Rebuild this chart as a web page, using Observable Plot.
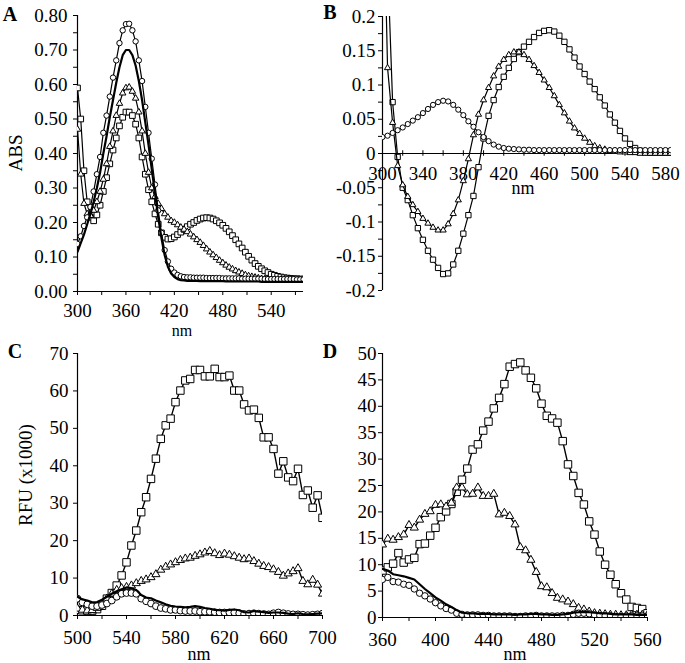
<!DOCTYPE html>
<html><head><meta charset="utf-8">
<script src="https://cdn.jsdelivr.net/npm/d3@7"></script>
<script src="https://cdn.jsdelivr.net/npm/@observablehq/plot@0.6"></script>
<style>
body{margin:0;background:#fff;}
#wrap{position:relative;width:685px;height:663px;overflow:hidden;font-family:"Liberation Serif","Times New Roman",serif;color:#000;}
.panel{position:absolute;}
.lbl{position:absolute;font-size:19px;line-height:1;white-space:nowrap;transform:translate(-50%,-50%);}
.nm{font-size:18px;}
.nmA{font-size:16px;}
.rot{transform:translate(-50%,-50%) rotate(-90deg);}
.let{position:absolute;font-size:20px;font-weight:bold;line-height:1;transform:translate(-50%,-50%);}
</style></head><body><div id="wrap"></div>
<script>
// ---------- Panel A (absorbance) ----------
const nmA = [300,304,308,312,316,320,324,328,332,336,340,344,348,352,356,360,364,368,372,376,380,384,388,392,396,400,404,408,412,416,420,424,428,432,436,440,444,448,452,456,460,464,468,472,476,480,484,488,492,496,500,504,508,512,516,520,524,528,532,536,540,544,548,552,556,560,564,568,572,576,580];
const absCircle = [0.138,0.16,0.19,0.215,0.245,0.29,0.34,0.39,0.46,0.51,0.565,0.62,0.67,0.72,0.757,0.775,0.776,0.757,0.725,0.67,0.61,0.535,0.46,0.385,0.31,0.235,0.17,0.12,0.087,0.066,0.055,0.048,0.044,0.042,0.041,
  0.041,0.040,0.040,0.040,0.040,0.039,0.039,0.039,0.039,0.039,0.038,0.038,0.038,0.038,0.038,0.038,0.037,0.037,0.037,0.037,0.037,0.037,0.037,0.036,0.036,0.036,0.036,0.036,0.036,0.036,0.036,0.036,0.036,0.035,0.035,0.035];
const absSolid = [0.115,0.14,0.165,0.195,0.225,0.26,0.30,0.345,0.40,0.45,0.505,0.555,0.605,0.65,0.685,0.70,0.70,0.685,0.655,0.61,0.555,0.49,0.425,0.355,0.285,0.215,0.155,0.105,0.072,0.052,0.042,0.036,0.033,0.032,0.031,
  0.031,0.031,0.031,0.030,0.030,0.030,0.030,0.030,0.030,0.030,0.030,0.029,0.029,0.029,0.029,0.029,0.029,0.029,0.029,0.029,0.029,0.029,0.028,0.028,0.028,0.028,0.028,0.028,0.028,0.028,0.028,0.028,0.028,0.028,0.028,0.028];
const absTriangle = [0.47,0.34,0.255,0.225,0.22,0.235,0.26,0.29,0.325,0.37,0.42,0.465,0.51,0.545,0.575,0.59,0.592,0.58,0.56,0.52,0.465,0.40,0.345,0.30,0.275,0.255,0.24,0.225,0.215,0.205,0.2,0.193,0.186,0.18,0.173,
  0.166,0.158,0.15,0.142,0.133,0.123,0.114,0.106,0.098,0.09,0.083,0.076,0.07,0.065,0.06,0.056,0.052,0.048,0.045,0.043,0.041,0.039,0.037,0.036,0.035,0.034,0.034,0.033,0.033,0.033,0.032,0.032,0.032,0.032,0.032,0.032];
const absSquare = [0.59,0.50,0.35,0.26,0.215,0.205,0.222,0.25,0.29,0.33,0.37,0.41,0.445,0.48,0.505,0.52,0.52,0.51,0.485,0.445,0.39,0.34,0.295,0.26,0.225,0.195,0.17,0.157,0.152,0.153,0.158,0.165,0.172,0.18,0.188,
  0.195,0.2,0.206,0.21,0.213,0.214,0.213,0.21,0.205,0.199,0.192,0.183,0.173,0.162,0.15,0.138,0.126,0.114,0.102,0.091,0.081,0.073,0.066,0.06,0.055,0.05,0.047,0.044,0.042,0.04,0.039,0.038,0.037,0.037,0.036,0.036];
const yTicksA = [0,0.1,0.2,0.3,0.4,0.5,0.6,0.7,0.8];
const yMinorA = [0.05,0.15,0.25,0.35,0.45,0.55,0.65,0.75];
const xTicksA = [300,360,420,480,540];
const xMinorA = [330,390,450,510,570];

// ---------- Panel B (difference spectra) ----------
const nmB = [300,305,310,315,320,325,330,335,340,345,350,355,360,365,370,375,380,385,390,395,400,405,410,415,420,425,430,435,440,445,450,455,460,465,470,475,480,485,490,495,500,505,510,515,520,525,530,535,540,545,550,555,560,565,570,575,580,585];
const difCircle = [0.024,0.026,0.03,0.034,0.038,0.043,0.048,0.053,0.059,0.065,0.071,0.075,0.077,0.076,0.071,0.064,0.056,0.047,0.039,0.031,0.024,0.018,0.013,0.01,0.008,0.007,0.0065,0.006,
  0.0055,0.0055,0.005,0.005,0.005,0.005,0.005,0.005,0.005,0.005,0.005,0.005,0.005,0.005,0.005,0.005,0.005,0.005,0.005,0.005,0.005,0.005,0.005,0.005,0.005,0.005,0.005,0.005,0.005,0.005];
const difTriangle = [0.45,0.125,0.045,-0.018,-0.046,-0.063,-0.075,-0.085,-0.095,-0.102,-0.108,-0.112,-0.112,-0.103,-0.088,-0.068,-0.04,-0.008,0.027,0.057,0.078,0.096,0.113,0.127,0.137,0.144,0.148,0.148,
  0.144,0.137,0.128,0.118,0.107,0.096,0.084,0.071,0.059,0.047,0.037,0.029,0.022,0.016,0.011,0.008,0.006,0.004,0.003,0.002,0.002,0.001,0.001,0,0,0,0,0,0,0];
const difSquare = [0.6,0.28,0.075,-0.005,-0.05,-0.068,-0.09,-0.109,-0.126,-0.142,-0.155,-0.167,-0.176,-0.175,-0.162,-0.142,-0.117,-0.09,-0.062,-0.02,0.022,0.055,0.078,0.097,0.112,0.125,0.138,0.148,
  0.156,0.163,0.17,0.176,0.179,0.18,0.178,0.172,0.163,0.152,0.14,0.127,0.116,0.105,0.094,0.082,0.07,0.057,0.045,0.033,0.022,0.014,0.008,0.004,0.002,0.001,0.001,0.001,0.001,0.001];
const yTicksB = [-0.2,-0.15,-0.1,-0.05,0,0.05,0.1,0.15,0.2];
const yMinorB = [-0.175,-0.125,-0.075,-0.025,0.025,0.075,0.125,0.175];
const xTicksB = [300,340,380,420,460,500,540,580];
const xMinorB = [320,360,400,440,480,520,560];

// ---------- Panel C (emission) ----------
const nmC = [500,504,508,512,516,520,524,528,532,536,540,544,548,552,556,560,564,568,572,576,580,584,588,592,596,600,604,608,612,616,620,624,628,632,636,640,644,648,652,656,660,664,668,672,676,680,684,688,692,696,700];
const rfuCSquare = [1.5,1.4,1.3,1.3,1.7,2.6,4.5,6.0,8.0,10.7,14.2,18.7,22.7,27.6,31.6,36.5,41.9,47.2,50.8,52.6,57.0,60.1,62.8,63.2,65.6,65.6,63.9,63.9,65.9,63.7,63.7,64.1,60.1,60.1,56.4,54.8,55.0,52.8,47.6,47.6,44.5,37.9,41.2,36.9,35.9,39.2,32.2,33.4,28.8,32.1,26.1];
const rfuCTriangle = [1.8,1.5,1.3,1.4,2.0,3.0,4.5,5.8,6.8,7.3,7.6,8.0,8.6,9.2,9.6,10.2,11.0,12.2,13.0,13.6,14.2,14.8,15.2,15.4,15.9,16.3,16.8,17.2,16.6,16.1,16.5,16.2,15.8,15.4,15.0,15.2,14.5,13.8,13.2,12.9,12.3,11.6,10.6,11.2,11.8,12.6,9.2,8.3,9.5,8.2,5.8];
const rfuCCircle = [4.5,3.5,3.0,2.5,2.5,2.8,3.2,4.0,5.0,5.8,6.0,6.0,5.8,4.5,3.8,3.2,2.5,2.0,1.8,1.5,1.5,1.3,1.2,1.2,1.2,1.0,1.0,1.0,0.9,0.8,0.8,0.8,0.8,0.6,0.4,0.5,0.6,0.5,0.4,0.3,0.6,0.8,0.6,0.4,0.3,0.3,0.2,0.1,0.2,0.3,0.5];
const rfuCSolid = [5.0,4.3,4.0,3.5,3.6,4.2,5.0,5.8,6.5,7.0,7.5,7.3,6.8,5.5,4.8,4.6,4.0,3.5,3.0,2.6,2.4,2.3,2.2,2.3,2.5,2.3,2.0,1.8,1.5,1.4,1.3,1.5,1.6,1.4,0.9,0.8,1.2,1.0,0.9,0.7,0.8,0.8,0.7,0.5,0.4,0.6,0.4,0.3,0.4,0.5,0.6];
const yTicksC = [0,10,20,30,40,50,60,70];
const xTicksC = [500,540,580,620,660,700];
const xMinorC = [520,560,600,640,680];

// ---------- Panel D (emission) ----------
const nmD = [360,364,368,372,376,380,384,388,392,396,400,404,408,412,416,420,424,428,432,436,440,444,448,452,456,460,464,468,472,476,480,484,488,492,496,500,504,508,512,516,520,524,528,532,536,540,544,548,552,556,560];
const rfuDSquare = [8.9,9.5,10.2,12.2,10.4,11.0,11.3,13.9,14.0,15.5,17.0,19.0,20.1,21.5,23.8,26.1,28.2,31.8,32.8,35.4,37.1,39.6,41.6,44.2,47.5,48.0,48.3,46.8,45.4,43.4,40.5,38.2,37.7,36.9,33.4,29.0,26.8,23.6,21.4,18.2,15.7,12.5,10.0,8.1,6.3,4.6,3.4,2.0,1.8,1.6,0.8];
const rfuDTriangle = [13.8,14.9,14.7,15.2,15.7,17.5,17.0,18.5,19.6,20.1,21.3,21.4,21.0,21.7,24.6,24.6,23.3,23.4,24.6,23.0,23.0,23.4,19.5,19.8,19.2,17.6,13.3,12.7,10.9,8.6,5.9,5.7,4.6,3.7,3.4,3.0,2.5,1.8,1.5,1.1,0.8,0.7,0.6,0.5,0.5,0.4,0.4,0.5,0.5,0.5,0.5];
const rfuDCircle = [7.2,7.6,6.8,6.7,6.3,6.1,5.4,4.6,4.1,3.5,2.8,2.2,1.7,1.4,0.8,0.6,0.5,0.5,0.5,0.4,0.4,0.3,0.3,0.3,0.3,0.2,0.2,0.3,0.3,0.4,0.3,0.3,0.3,0.3,0.4,0.4,0.6,0.8,0.8,0.7,0.5,0.4,0.3,0.3,0.2,0.2,0.3,0.3,0.3,0.3,0.3];
const rfuDSolid = [9.2,8.9,8.2,8.0,7.8,7.5,7.2,6.3,5.4,4.6,3.8,3.2,2.5,2.0,1.4,0.9,0.8,0.8,0.7,0.7,0.7,0.6,0.6,0.6,0.6,0.5,0.6,0.6,0.7,0.7,0.6,0.6,0.5,0.5,0.6,0.7,0.9,1.0,1.0,1.0,0.9,0.8,0.8,0.7,0.6,0.6,0.6,0.6,0.5,0.5,0.5];
const yTicksD = [0,5,10,15,20,25,30,35,40,45,50];
const xTicksD = [360,400,440,480,520,560];
const xMinorD = [380,420,460,500,540];

// ---------- helpers ----------
const FONT = '"Liberation Serif","Times New Roman",serif';
function pts(xs, ys, name) {
  if (xs.length !== ys.length) throw new Error("length mismatch " + name + " " + xs.length + " vs " + ys.length);
  return xs.map((x, i) => ({x, y: ys[i]}));
}
const fmtB = d => String(Math.round(d * 100) / 100);

function panel(o) {
  const marks = [];
  marks.push(Plot.ruleX([o.xd[0]], {stroke: "#000", strokeWidth: 1.2}));
  marks.push(Plot.ruleY([o.yAxisAt], {stroke: "#000", strokeWidth: 1.2}));
  if (o.yMinor) marks.push(Plot.axisY(o.yMinor, {tickSize: 4, tickFormat: () => "", label: null}));
  marks.push(Plot.axisY(o.yTicks, {tickSize: 4, tickPadding: o.yPad, tickFormat: o.yFmt, label: null}));
  if (o.xAtZero) {
    marks.push(Plot.ruleX(o.xTicks.concat(o.xMinor), {x: d => d, y1: () => -0.004, y2: () => 0.004, stroke: "#000"}));
    marks.push(Plot.text(o.xTicks, {x: d => d, y: () => 0, dy: 20, text: d => String(d)}));
  } else {
    marks.push(Plot.axisX(o.xMinor, {tickSize: 4, tickFormat: () => "", label: null}));
    marks.push(Plot.axisX(o.xTicks, {tickSize: 4, tickPadding: o.xPad, tickFormat: d => String(d), label: null}));
  }
  for (const s of o.series) {
    const data = pts(o.xs, s.ys, s.name);
    marks.push(Plot.line(data, {x: "x", y: "y", stroke: "#000", strokeWidth: s.lw, clip: true}));
    if (s.symbol) marks.push(Plot.dot(data, {x: "x", y: "y", symbol: s.symbol, r: s.r, fill: "#fff", stroke: "#000", strokeWidth: 1, clip: true}));
  }
  const xScale = {domain: o.xd, label: null};
  if (o.xAtZero) xScale.axis = null;
  const svg = Plot.plot({
    width: o.w, height: o.h,
    marginLeft: o.m[0], marginRight: o.m[1], marginTop: o.m[2], marginBottom: o.m[3],
    x: xScale, y: {domain: o.yd, label: null},
    style: {fontFamily: FONT, fontSize: "19px", color: "#000", background: "transparent", overflow: "visible"},
    marks
  });
  const div = document.createElement("div");
  div.className = "panel";
  div.style.left = o.left + "px"; div.style.top = o.top + "px";
  div.appendChild(svg);
  document.getElementById("wrap").appendChild(div);
}

panel({
  left: 0, top: 0, w: 340, h: 330, m: [77, 37, 15, 39],
  xd: [300, 580], yd: [0, 0.8], yAxisAt: 0, xs: nmA,
  yTicks: yTicksA, yMinor: yMinorA, yFmt: d3.format(".2f"), yPad: 6,
  xTicks: xTicksA, xMinor: xMinorA, xPad: 8,
  series: [
    {name: "sq", ys: absSquare, symbol: "square", r: 3.2, lw: 1.2},
    {name: "tri", ys: absTriangle, symbol: "triangle", r: 2.4, lw: 1.2},
    {name: "cir", ys: absCircle, symbol: "circle", r: 2.7, lw: 1.2},
    {name: "solid", ys: absSolid, lw: 2.2}
  ]
});
panel({
  left: 340, top: 0, w: 345, h: 330, m: [42, 14, 16, 40],
  xd: [300, 586], yd: [-0.2, 0.2], yAxisAt: 0, xs: nmB, xAtZero: true,
  yTicks: yTicksB, yMinor: yMinorB, yFmt: fmtB, yPad: 3,
  xTicks: xTicksB, xMinor: xMinorB,
  series: [
    {name: "sq", ys: difSquare, symbol: "square", r: 3.0, lw: 1.2},
    {name: "tri", ys: difTriangle, symbol: "triangle", r: 2.3, lw: 1.2},
    {name: "cir", ys: difCircle, symbol: "circle", r: 2.6, lw: 1.2}
  ]
});
panel({
  left: 0, top: 330, w: 340, h: 333, m: [77, 18, 23, 48],
  xd: [500, 700], yd: [0, 70], yAxisAt: 0, xs: nmC,
  yTicks: yTicksC, yFmt: d => String(d), yPad: 5,
  xTicks: xTicksC, xMinor: xMinorC, xPad: 11,
  series: [
    {name: "sq", ys: rfuCSquare, symbol: "square", r: 4.2, lw: 1.4},
    {name: "tri", ys: rfuCTriangle, symbol: "triangle", r: 3.0, lw: 1.4},
    {name: "cir", ys: rfuCCircle, symbol: "circle", r: 3.4, lw: 1.4},
    {name: "solid", ys: rfuCSolid, lw: 2.2}
  ]
});
panel({
  left: 340, top: 330, w: 345, h: 333, m: [42, 38, 23, 46],
  xd: [360, 560], yd: [0, 50], yAxisAt: 0, xs: nmD,
  yTicks: yTicksD, yFmt: d => String(d), yPad: 2,
  xTicks: xTicksD, xMinor: xMinorD, xPad: 11,
  series: [
    {name: "sq", ys: rfuDSquare, symbol: "square", r: 4.2, lw: 1.4},
    {name: "tri", ys: rfuDTriangle, symbol: "triangle", r: 3.0, lw: 1.4},
    {name: "cir", ys: rfuDCircle, symbol: "circle", r: 3.2, lw: 1.4},
    {name: "solid", ys: rfuDSolid, lw: 2.2}
  ]
});

// ---------- text labels ----------
const labels = [
  {t: "A", x: 10, y: 14, c: "let"}, {t: "B", x: 330, y: 12, c: "let"},
  {t: "C", x: 15, y: 351, c: "let"}, {t: "D", x: 330, y: 351, c: "let"},
  {t: "ABS", x: 15, y: 153, c: "lbl rot"}, {t: "RFU (x1000)", x: 25, y: 475, c: "lbl rot"},
  {t: "nm", x: 182, y: 331, c: "lbl nmA"}, {t: "nm", x: 523, y: 188, c: "lbl nm"},
  {t: "nm", x: 199, y: 654, c: "lbl nm"}, {t: "nm", x: 515, y: 654, c: "lbl nm"}
];
for (const l of labels) {
  const d = document.createElement("div");
  d.className = l.c; d.textContent = l.t;
  d.style.left = l.x + "px"; d.style.top = l.y + "px";
  document.getElementById("wrap").appendChild(d);
}
</script></body></html>
